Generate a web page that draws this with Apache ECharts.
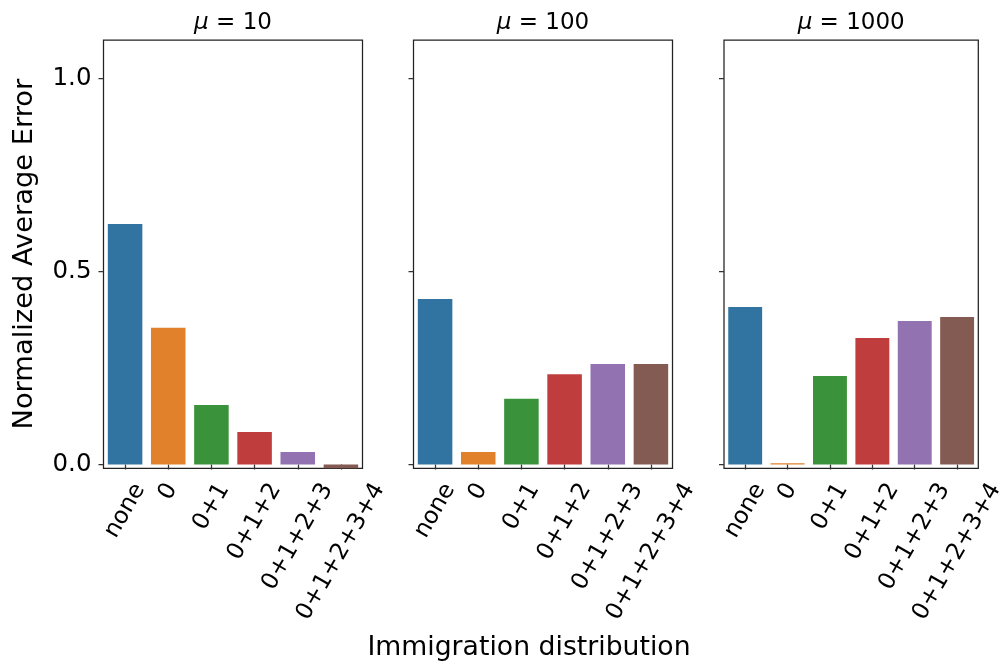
<!DOCTYPE html>
<html><head><meta charset="utf-8">
<script src="https://cdn.jsdelivr.net/npm/echarts@6/dist/echarts.min.js"></script>
<style>html,body{margin:0;padding:0;background:#fff}#c{width:1007px;height:665px}</style>
</head><body><div id="c"></div>
<script>
const categories = ['none', '0', '0+1', '0+1+2', '0+1+2+3', '0+1+2+3+4'];
const muValues = ['10', '100', '1000'];
const errMu10 = [0.623, 0.354, 0.154, 0.084, 0.032, -0.02];
const errMu100 = [0.429, 0.032, 0.170, 0.234, 0.260, 0.260];
const errMu1000 = [0.408, 0.003, 0.229, 0.328, 0.372, 0.382];
const yTicks = [0, 0.5, 1.0];
const yLabel = 'Normalized Average Error';
const xLabel = 'Immigration distribution';

const palette = ['#3274a1', '#e1812c', '#3a923a', '#c03d3e', '#9372b2', '#845b53'];
const FONT = 'DejaVu Sans';
const XTICK_FS = 23.5, YTICK_FS = 24.5;
const seriesData = [errMu10, errMu100, errMu1000];
const lefts = [103.5, 413.5, 724];
const gridW = 259, gridTop = 40, gridH = 428.3;

// per-label rich padding so the rotated label's box is centred on its tick (matplotlib style)
const ctx = document.createElement('canvas').getContext('2d');
ctx.font = XTICK_FS + 'px "' + FONT + '"';
const rich = {};
categories.forEach((c, i) => {
  const w = ctx.measureText(c).width;
  rich['c' + i] = { fontSize: XTICK_FS, fontFamily: FONT, color: '#000',
    padding: [0.433 * w, 0.75 * w, 0, 0] };
});

const grids = [], xAxes = [], yAxes = [], series = [];
lefts.forEach((l, i) => {
  grids.push({ left: l, top: gridTop, width: gridW, height: gridH, show: true,
    borderColor: '#222', borderWidth: 1.25, backgroundColor: '#fff', containLabel: false });
  xAxes.push({ type: 'category', gridIndex: i, data: categories, position: 'bottom',
    axisLine: { show: false },
    axisTick: { show: true, alignWithLabel: true, length: 5, lineStyle: { color: '#333', width: 1.25 } },
    axisLabel: { interval: 0, rotate: 60, align: 'center', verticalAlign: 'middle', margin: 17,
      fontSize: XTICK_FS, fontFamily: FONT, color: '#000',
      formatter: (v, idx) => '{c' + idx + '|' + v + '}', rich: rich },
    splitLine: { show: false } });
  xAxes.push({ type: 'category', gridIndex: i, data: categories, position: 'top',
    axisLine: { show: false }, axisTick: { show: false }, axisLabel: { show: false },
    name: '{i|μ} = ' + muValues[i], nameLocation: 'middle', nameGap: 5,
    nameTextStyle: { fontSize: 23, fontFamily: FONT, color: '#000',
      rich: { i: { fontSize: 23, fontFamily: FONT, fontStyle: 'italic', color: '#000' } } } });
  yAxes.push({ type: 'value', gridIndex: i, min: -0.01, max: 1.1,
    axisLine: { show: false },
    axisTick: { show: true, length: 5, customValues: yTicks, lineStyle: { color: '#333', width: 1.25 } },
    axisLabel: { show: i === 0, customValues: yTicks, margin: 12, fontSize: YTICK_FS, fontFamily: FONT, color: '#000',
      formatter: v => v.toFixed(1) },
    splitLine: { show: false },
    name: i === 0 ? yLabel : '', nameLocation: 'middle', nameGap: 65,
    nameTextStyle: { fontSize: 27.3, fontFamily: FONT, color: '#000' } });
  series.push({ type: 'bar', xAxisIndex: 2 * i, yAxisIndex: i, data: seriesData[i],
    barWidth: '80%', colorBy: 'data', clip: true, animation: false,
    itemStyle: { color: p => palette[p.dataIndex] } });
});

const chart = echarts.init(document.getElementById('c'), null, { renderer: 'canvas' });
chart.setOption({
  animation: false,
  backgroundColor: '#fff',
  grid: grids, xAxis: xAxes, yAxis: yAxes, series: series,
  graphic: [{ type: 'text', x: 529, y: 648,
    style: { text: xLabel, fontSize: 26.7, fontFamily: FONT, fill: '#000', align: 'center', verticalAlign: 'middle' } }]
});
</script></body></html>
